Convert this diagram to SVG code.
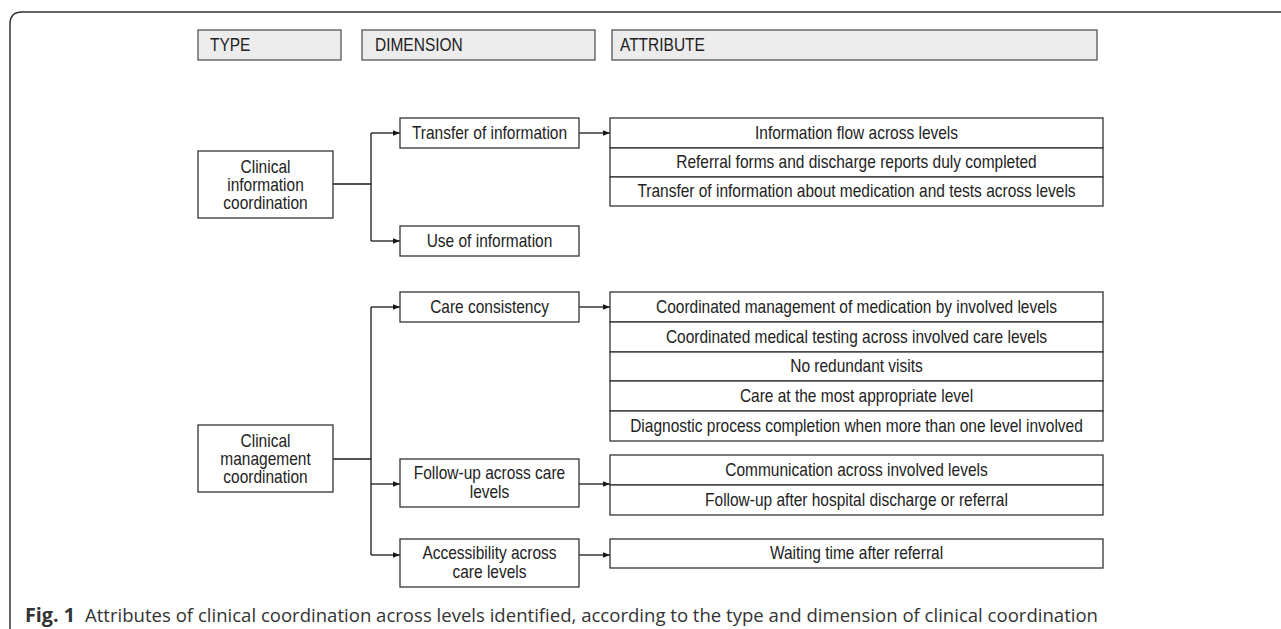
<svg xmlns="http://www.w3.org/2000/svg" width="1281" height="629" viewBox="0 0 1281 629">
<defs>
<marker id="ah" viewBox="0 0 10 10" refX="10" refY="5" markerWidth="7" markerHeight="7" markerUnits="userSpaceOnUse" orient="auto">
<path d="M0,1 L10,5 L0,9 z" fill="#1a1a1a"/>
</marker>
</defs>
<style>
.hdr{fill:#ececec;stroke:#555;stroke-width:1.3}
.box{fill:#fff;stroke:#333;stroke-width:1.3}
.t{font-family:"Liberation Sans",Arial,sans-serif;font-size:17.5px;fill:#222;text-anchor:middle;transform-box:fill-box;transform-origin:center;transform:scaleX(0.885)}
.h{font-family:"Liberation Sans",Arial,sans-serif;font-size:17.5px;fill:#222;transform-box:fill-box;transform-origin:left center;transform:scaleX(0.885)}
.c{stroke:#1a1a1a;stroke-width:1.3;fill:none}
.ca{font-family:"Open Sans","Noto Sans",sans-serif;font-size:19px;fill:#333}
</style>
<rect width="1281" height="629" fill="#fff"/>
<path d="M10,629 L10,24 Q10,12 22,12 L1281,12" fill="none" stroke="#333" stroke-width="1.5"/>

<g id="header-type"><rect class="hdr" x="198" y="30" width="143" height="30"/><text class="h" x="210" y="51">TYPE</text></g>
<g id="header-dimension"><rect class="hdr" x="362" y="30" width="233" height="30"/><text class="h" x="375" y="51">DIMENSION</text></g>
<g id="header-attribute"><rect class="hdr" x="612" y="30" width="485" height="30"/><text class="h" x="620" y="51">ATTRIBUTE</text></g>

<g id="connectors">
<path class="c" d="M333,184 H371"/>
<path class="c" d="M371,133 V241"/>
<path class="c" d="M371,133 H400" marker-end="url(#ah)"/>
<path class="c" d="M371,241 H400" marker-end="url(#ah)"/>
<path class="c" d="M579,133 H610" marker-end="url(#ah)"/>
<path class="c" d="M333,459 H371"/>
<path class="c" d="M371,307 V555"/>
<path class="c" d="M371,307 H400" marker-end="url(#ah)"/>
<path class="c" d="M371,484 H400" marker-end="url(#ah)"/>
<path class="c" d="M371,555 H400" marker-end="url(#ah)"/>
<path class="c" d="M579,307 H610" marker-end="url(#ah)"/>
<path class="c" d="M579,484 H610" marker-end="url(#ah)"/>
<path class="c" d="M579,555 H610" marker-end="url(#ah)"/>
</g>

<g id="type-info"><rect class="box" x="198" y="151" width="135" height="67"/>
<text class="t" x="265.5" y="173">Clinical</text><text class="t" x="265.5" y="191">information</text><text class="t" x="265.5" y="209">coordination</text></g>
<g id="type-mgmt"><rect class="box" x="198" y="425" width="135" height="67"/>
<text class="t" x="265.5" y="447">Clinical</text><text class="t" x="265.5" y="465">management</text><text class="t" x="265.5" y="483">coordination</text></g>

<g id="dim-transfer"><rect class="box" x="400" y="118" width="179" height="30"/><text class="t" x="489.5" y="139">Transfer of information</text></g>
<g id="dim-use"><rect class="box" x="400" y="226" width="179" height="30"/><text class="t" x="489.5" y="247">Use of information</text></g>
<g id="dim-care"><rect class="box" x="400" y="292" width="179" height="30"/><text class="t" x="489.5" y="313">Care consistency</text></g>
<g id="dim-followup"><rect class="box" x="400" y="459" width="179" height="48"/><text class="t" x="489.5" y="479">Follow-up across care</text><text class="t" x="489.5" y="498">levels</text></g>
<g id="dim-access"><rect class="box" x="400" y="539" width="179" height="48"/><text class="t" x="489.5" y="559">Accessibility across</text><text class="t" x="489.5" y="578">care levels</text></g>

<g id="attr-transfer">
<rect class="box" x="610" y="118" width="493" height="30"/><text class="t" x="856.5" y="139">Information flow across levels</text>
<rect class="box" x="610" y="148" width="493" height="29"/><text class="t" x="856.5" y="168.5">Referral forms and discharge reports duly completed</text>
<rect class="box" x="610" y="177" width="493" height="29"/><text class="t" x="856.5" y="197.5">Transfer of information about medication and tests across levels</text>
</g>
<g id="attr-care">
<rect class="box" x="610" y="292" width="493" height="30"/><text class="t" x="856.5" y="313">Coordinated management of medication by involved levels</text>
<rect class="box" x="610" y="322" width="493" height="30"/><text class="t" x="856.5" y="343">Coordinated medical testing across involved care levels</text>
<rect class="box" x="610" y="352" width="493" height="29"/><text class="t" x="856.5" y="372.5">No redundant visits</text>
<rect class="box" x="610" y="381" width="493" height="30"/><text class="t" x="856.5" y="402">Care at the most appropriate level</text>
<rect class="box" x="610" y="411" width="493" height="30"/><text class="t" x="856.5" y="432">Diagnostic process completion when more than one level involved</text>
</g>
<g id="attr-followup">
<rect class="box" x="610" y="455" width="493" height="30"/><text class="t" x="856.5" y="476">Communication across involved levels</text>
<rect class="box" x="610" y="485" width="493" height="30"/><text class="t" x="856.5" y="506">Follow-up after hospital discharge or referral</text>
</g>
<g id="attr-access">
<rect class="box" x="610" y="539" width="493" height="29"/><text class="t" x="856.5" y="559.5">Waiting time after referral</text>
</g>

<g id="caption">
<text class="ca" x="25" y="622" font-weight="bold" fill="#222" textLength="50" lengthAdjust="spacingAndGlyphs">Fig. 1</text>
<text class="ca" x="85" y="622" textLength="1013" lengthAdjust="spacingAndGlyphs">Attributes of clinical coordination across levels identified, according to the type and dimension of clinical coordination</text>
</g>
</svg>
